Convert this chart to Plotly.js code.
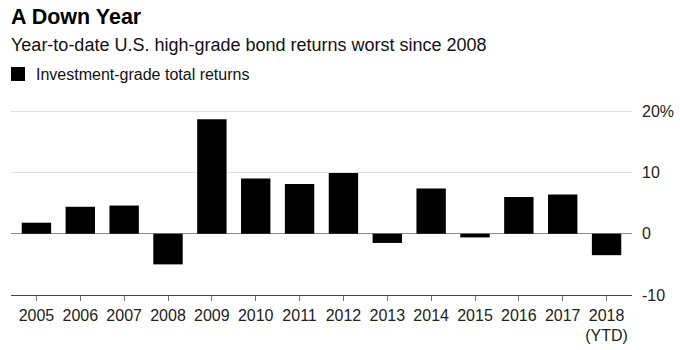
<!DOCTYPE html>
<html>
<head>
<meta charset="utf-8">
<script src="https://cdn.plot.ly/plotly-3.0.1.min.js"></script>
<style>html,body{margin:0;padding:0;background:#fff;}#chart{width:680px;height:350px;}</style>
</head>
<body>
<div id="chart"></div>
<script>
const years = ["2005","2006","2007","2008","2009","2010","2011","2012","2013","2014","2015","2016","2017","2018<br>(YTD)"];
const returns = [1.8, 4.4, 4.6, -5.0, 18.7, 9.0, 8.1, 9.9, -1.5, 7.4, -0.6, 6.0, 6.4, -3.5];
const yTickVals = [20, 10, 0, -10];
const yTickText = ["20%", "10", "0", "-10"];
const seriesName = "Investment-grade total returns";

const FONT = "'Liberation Sans', Arial, Helvetica, sans-serif";
const W = 680, HT = 350, ML = 11, MR = 48, MT = 110, MB = 55;
const PW = W - ML - MR, PH = HT - MT - MB;
const py = p => (HT - MB - p) / PH;
const px = p => (p - ML) / PW;

const trace = {
  type: "bar",
  x: years,
  y: returns,
  name: seriesName,
  marker: {color: "#000000", line: {width: 0}},
  showlegend: false,
  hoverinfo: "x+y"
};

const layout = {
  width: W,
  height: HT,
  margin: {l: ML, r: MR, t: MT, b: MB},
  paper_bgcolor: "#ffffff",
  plot_bgcolor: "#ffffff",
  font: {family: FONT, color: "#222222", size: 16},
  bargap: 0.33,
  xaxis: {
    type: "category",
    range: [-0.58, 13.58],
    showgrid: false,
    showline: true,
    linecolor: "#444444",
    linewidth: 1.3,
    ticks: "outside",
    ticklen: 5,
    tickcolor: "#777777",
    tickwidth: 1,
    tickfont: {size: 16, color: "#222222", family: FONT},
    fixedrange: true
  },
  yaxis: {
    side: "right",
    range: [-10, 20.2],
    tickvals: yTickVals,
    ticktext: yTickText,
    showgrid: true,
    gridcolor: "#e0e0e0",
    gridwidth: 1.3,
    zeroline: true,
    zerolinecolor: "#8c8c8c",
    zerolinewidth: 1,
    showline: false,
    ticks: "",
    ticklabelstandoff: 9,
    tickfont: {size: 16, color: "#222222", family: FONT},
    fixedrange: true
  },
  shapes: [
    {type: "rect", xref: "paper", yref: "paper",
     x0: px(11), x1: px(25), y0: py(81), y1: py(67),
     fillcolor: "#000000", line: {width: 0}}
  ],
  annotations: [
    {text: "<b>A Down Year</b>", xref: "paper", yref: "paper", x: px(9), y: py(17),
     xanchor: "left", yanchor: "middle", showarrow: false,
     font: {size: 21.5, color: "#000000", family: FONT}},
    {text: "Year-to-date U.S. high-grade bond returns worst since 2008", xref: "paper", yref: "paper",
     x: px(9), y: py(45), xanchor: "left", yanchor: "middle", showarrow: false,
     font: {size: 18, color: "#111111", family: FONT}},
    {text: seriesName, xref: "paper", yref: "paper",
     x: px(34), y: py(74), xanchor: "left", yanchor: "middle", showarrow: false,
     font: {size: 16, color: "#111111", family: FONT}}
  ]
};

Plotly.newPlot("chart", [trace], layout, {displayModeBar: false, staticPlot: true});
</script>
</body>
</html>
